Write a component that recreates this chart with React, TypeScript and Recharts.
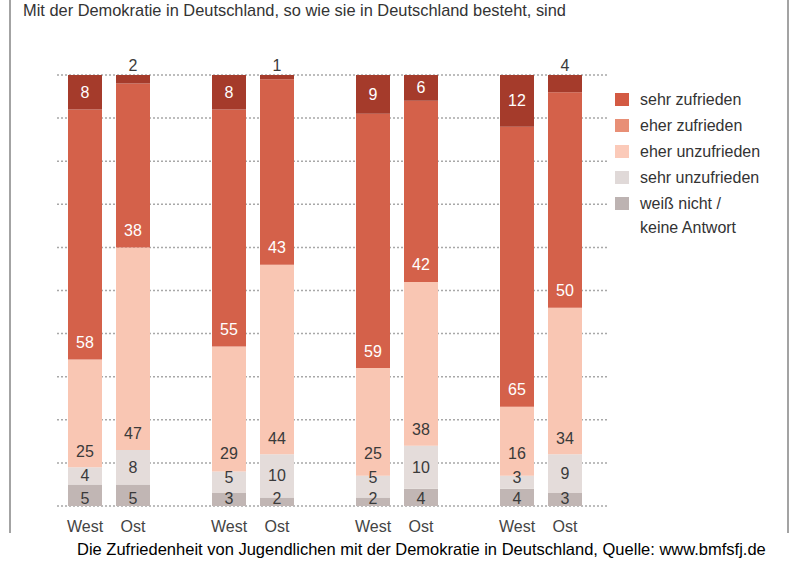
import React from 'react';
import { BarChart, Bar, XAxis, YAxis, CartesianGrid, LabelList, Legend } from 'recharts';

// Werte je Balken (West/Ost, vier Gruppen), in Prozent
const groups = ['West', 'Ost', 'West', 'Ost', 'West', 'Ost', 'West', 'Ost'];
const sehrZufrieden = [8, 2, 8, 1, 9, 6, 12, 4];
const eherZufrieden = [58, 38, 55, 43, 59, 42, 65, 50];
const eherUnzufrieden = [25, 47, 29, 44, 25, 38, 16, 34];
const sehrUnzufrieden = [4, 8, 5, 10, 5, 10, 3, 9];
const weissNicht = [5, 5, 3, 2, 2, 4, 4, 3];
const yTicks = [0, 10, 20, 30, 40, 50, 60, 70, 80, 90, 100];

const title = 'Mit der Demokratie in Deutschland, so wie sie in Deutschland besteht, sind';
const caption = 'Die Zufriedenheit von Jugendlichen mit der Demokratie in Deutschland, Quelle: www.bmfsfj.de';

const FONT = '"Liberation Sans", Arial, Helvetica, sans-serif';

const W = 800;
const H = 573;
const MARGIN = { top: 75, right: 193, bottom: 37, left: 57 };
const X_AXIS_H = 30;
const PLOT_BOTTOM = H - MARGIN.bottom - X_AXIS_H;

// stacked bottom -> top
const series = [
  { key: 'wn', name: 'weiß nicht / keine Antwort', values: weissNicht, fill: '#c1b6b4', legend: '#bdb3b2', mode: 'base' },
  { key: 'su', name: 'sehr unzufrieden', values: sehrUnzufrieden, fill: '#e4dcda', legend: '#e0d9d8', mode: 'second' },
  { key: 'eu', name: 'eher unzufrieden', values: eherUnzufrieden, fill: '#f9c6b3', legend: '#fbcab9', mode: 'bottomDark' },
  { key: 'ez', name: 'eher zufrieden', values: eherZufrieden, fill: '#d4614a', legend: '#e88f76', mode: 'bottomLight' },
  { key: 'sz', name: 'sehr zufrieden', values: sehrZufrieden, fill: '#a53b2b', legend: '#d35a43', mode: 'top' },
];

// insert empty slots between the West/Ost pairs
const data: any[] = [];
groups.forEach((g, i) => {
  const row: any = { name: g };
  series.forEach((s) => (row[s.key] = s.values[i]));
  data.push(row);
  if (i % 2 === 1 && i < groups.length - 1) {
    const gap: any = { name: '' };
    series.forEach((s) => (gap[s.key] = null));
    data.push(gap);
  }
});

// label placement: small lower segments get pushed apart like in the original
const makeLabel = (mode: string) => (props: any) => {
  const { x, y, width, height, value } = props;
  if (value == null) return null;
  const h = Math.abs(height);
  const top = height < 0 ? y + height : y;
  const cx = x + width / 2;
  let ty = top + h / 2;
  let fill = '#3a3a3a';
  if (mode === 'top') {
    if (value >= 5) {
      fill = '#ffffff';
    } else {
      ty = top - 10;
    }
  } else if (mode === 'bottomLight') {
    ty = top + h - 17;
    fill = '#ffffff';
  } else if (mode === 'bottomDark') {
    ty = Math.min(top + h - 16, PLOT_BOTTOM - 53);
  } else if (mode === 'second') {
    ty = Math.min(top + h / 2, PLOT_BOTTOM - 29);
  } else if (mode === 'base') {
    ty = PLOT_BOTTOM - 8;
  }
  return (
    <text x={cx} y={ty} textAnchor="middle" dominantBaseline="central" fontSize={16} fontFamily={FONT} fill={fill}>
      {value}
    </text>
  );
};

const renderLegend = () => {
  const items = [...series].reverse();
  return (
    <div style={{ fontFamily: FONT, fontSize: 16, color: '#333' }}>
      {items.map((s) => {
        const lines = s.key === 'wn' ? ['weiß nicht /', 'keine Antwort'] : [s.name];
        return (
          <div key={s.key} style={{ display: 'flex', alignItems: 'flex-start', marginBottom: 8 }}>
            <div style={{ width: 14, height: 13, background: s.legend, marginTop: 2, marginRight: 11, flexShrink: 0 }} />
            <div style={{ lineHeight: '18px' }}>
              {lines.map((l, i) => (
                <div key={i} style={{ marginBottom: i < lines.length - 1 ? 6 : 0 }}>{l}</div>
              ))}
            </div>
          </div>
        );
      })}
    </div>
  );
};

export default function App() {
  return (
    <div style={{ position: 'absolute', left: 0, top: 0, width: W, height: H, background: '#fff', overflow: 'hidden' }}>
      <div style={{ position: 'absolute', left: 9, top: 0, width: 2, height: 533, background: '#a3a3a3' }} />
      <div style={{ position: 'absolute', left: 787, top: 0, width: 2, height: 533, background: '#a3a3a3' }} />
      <div
        style={{
          position: 'absolute',
          left: 23,
          top: 2,
          fontFamily: FONT,
          fontSize: 16.4,
          lineHeight: '17px',
          color: '#333',
          whiteSpace: 'nowrap',
        }}
      >
        {title}
      </div>
      <BarChart width={W} height={H} data={data} margin={MARGIN}>
        <CartesianGrid vertical={false} stroke="#a8a8a8" strokeWidth={1.5} strokeDasharray="2 2" />
        <XAxis
          dataKey="name"
          height={X_AXIS_H}
          padding={{ left: 4, right: 18 }}
          axisLine={false}
          tickLine={false}
          tickMargin={9}
          interval={0}
          tick={{ fill: '#444', fontSize: 16, fontFamily: FONT }}
        />
        <YAxis hide domain={[0, 100]} ticks={yTicks} />
        <Legend
          verticalAlign="middle"
          align="center"
          content={renderLegend}
          wrapperStyle={{ position: 'absolute', left: 615, top: 91, width: 180, height: 160 }}
        />
        {series.map((s) => (
          <Bar key={s.key} dataKey={s.key} name={s.name} stackId="a" fill={s.fill} barSize={34} isAnimationActive={false}>
            <LabelList dataKey={s.key} content={makeLabel(s.mode)} />
          </Bar>
        ))}
      </BarChart>
      <div
        style={{
          position: 'absolute',
          left: 77,
          top: 540,
          fontFamily: FONT,
          fontSize: 16.5,
          lineHeight: '18px',
          color: '#000',
          whiteSpace: 'nowrap',
        }}
      >
        {caption}
      </div>
    </div>
  );
}
